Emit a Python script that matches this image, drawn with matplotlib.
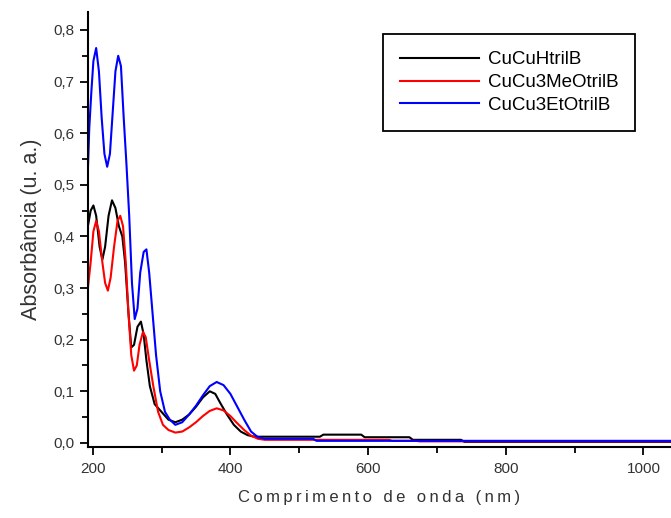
import matplotlib.pyplot as plt
from matplotlib.ticker import MultipleLocator, FuncFormatter

plt.rcParams['font.family'] = ['Liberation Sans', 'DejaVu Sans']

# dados
x_h = [193, 197, 201, 205, 210, 214, 218, 223, 228, 233, 238, 243, 247, 252, 256, 260, 265, 270, 274, 278,
       283, 290, 300, 310, 320, 330, 340, 350, 360, 370, 378, 385, 395, 405, 415, 425, 435, 445, 530, 535,
       590, 595, 660, 665, 735, 740, 1040]
y_h = [0.42, 0.45, 0.46, 0.44, 0.38, 0.355, 0.38, 0.44, 0.47, 0.455, 0.42, 0.40, 0.35, 0.25, 0.185, 0.19, 0.225, 0.235, 0.21, 0.16,
       0.11, 0.075, 0.06, 0.045, 0.04, 0.045, 0.055, 0.07, 0.088, 0.10, 0.095, 0.078, 0.055, 0.035, 0.022, 0.015, 0.012, 0.012, 0.012, 0.016,
       0.016, 0.011, 0.011, 0.006, 0.006, 0.002, 0.002]

x_me = [193, 197, 201, 205, 209, 214, 218, 222, 226, 231, 236, 240, 244, 248, 252, 256, 260, 264, 268, 273,
        277, 282, 288, 295, 302, 310, 320, 330, 340, 350, 360, 370, 380, 390, 400, 410, 420, 430, 440, 450,
        630, 635, 670, 675, 1040]
y_me = [0.30, 0.35, 0.41, 0.43, 0.41, 0.35, 0.31, 0.295, 0.32, 0.38, 0.43, 0.44, 0.42, 0.35, 0.25, 0.17, 0.14, 0.15, 0.19, 0.215,
        0.205, 0.16, 0.11, 0.06, 0.035, 0.025, 0.02, 0.022, 0.03, 0.04, 0.052, 0.062, 0.067, 0.063, 0.052, 0.038, 0.025, 0.014, 0.008, 0.006,
        0.006, 0.004, 0.004, 0.003, 0.003]

x_et = [193, 195, 198, 201, 205, 209, 213, 217, 221, 225, 229, 233, 237, 241, 245, 249, 253, 257, 261, 265,
        269, 274, 278, 282, 287, 292, 298, 305, 312, 320, 330, 340, 350, 360, 370, 380, 390, 400, 410, 420,
        430, 440, 450, 520, 525, 1040]
y_et = [0.53, 0.61, 0.68, 0.74, 0.765, 0.72, 0.63, 0.56, 0.535, 0.56, 0.64, 0.72, 0.75, 0.73, 0.63, 0.54, 0.44, 0.31, 0.24, 0.26,
        0.33, 0.37, 0.375, 0.33, 0.25, 0.17, 0.10, 0.06, 0.045, 0.035, 0.04, 0.055, 0.072, 0.092, 0.11, 0.118, 0.112, 0.095, 0.07, 0.045,
        0.022, 0.011, 0.008, 0.008, 0.004, 0.004]

labels = ['CuCuHtrilB', 'CuCu3MeOtrilB', 'CuCu3EtOtrilB']

fig = plt.figure(figsize=(6.71, 5.18), dpi=100)
ax = fig.add_axes([0.131, 0.137, 0.869, 0.84])

ax.plot(x_h, y_h, color='black', lw=1.5, label=labels[0])
ax.plot(x_me, y_me, color='red', lw=1.5, label=labels[1])
ax.plot(x_et, y_et, color='blue', lw=1.5, label=labels[2])

ax.set_xlim(193, 1040)
ax.set_ylim(-0.008, 0.835)
ax.spines['top'].set_visible(False)
ax.spines['right'].set_visible(False)
ax.spines['left'].set_linewidth(1.5)
ax.spines['bottom'].set_linewidth(1.5)

ax.xaxis.set_major_locator(MultipleLocator(200))
ax.xaxis.set_minor_locator(MultipleLocator(100))
ax.yaxis.set_major_locator(MultipleLocator(0.1))
ax.yaxis.set_minor_locator(MultipleLocator(0.05))
ax.yaxis.set_major_formatter(FuncFormatter(lambda v, p: ('%.1f' % v).replace('.', ',')))
ax.tick_params(which='major', direction='out', length=6, width=1.3, labelsize=11, labelcolor='#333333')
ax.tick_params(which='minor', direction='out', length=4, width=1.3)
ax.tick_params(axis='x', pad=5)

xlab = '\u2009'.join('Comprimento de onda (nm)')
ax.set_xlabel(xlab, fontsize=12, color='#333333', labelpad=10)
ax.set_ylabel('Absorbância (u. a.)', fontsize=15.5, color='#333333', labelpad=8)

leg = ax.legend(loc='upper right', bbox_to_anchor=(0.955, 0.97), fontsize=13.5, fancybox=False,
                framealpha=1, edgecolor='black', handlelength=4.2, handletextpad=0.5,
                borderpad=0.9, labelspacing=0.3)
leg.get_frame().set_linewidth(1.3)

fig.savefig('out.png', dpi=100)
